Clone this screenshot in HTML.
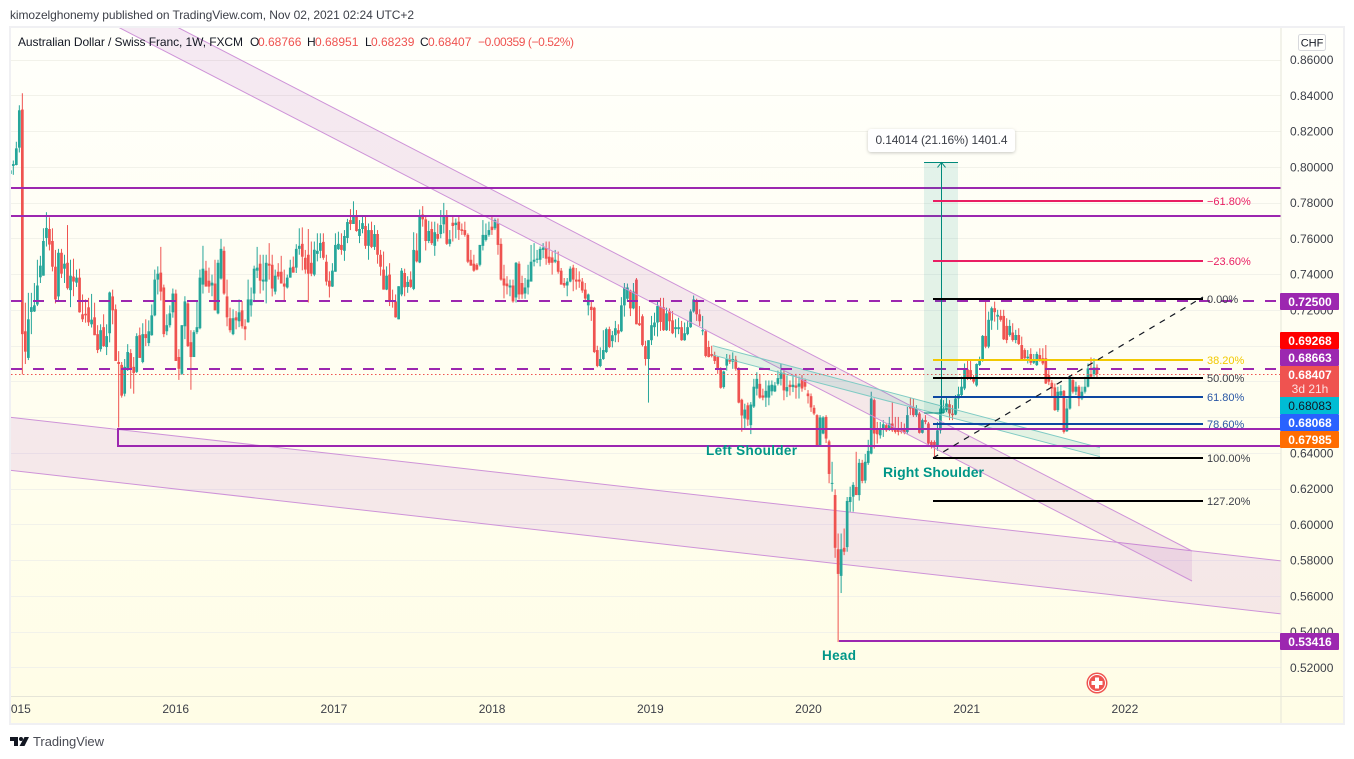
<!DOCTYPE html>
<html lang="en">
<head>
<meta charset="utf-8">
<title>AUD/CHF weekly chart</title>
<style>
html,body{margin:0;padding:0;background:#fff;width:1354px;height:759px;overflow:hidden}
svg{display:block;font-family:"Liberation Sans",sans-serif}
</style>
</head>
<body>
<svg id="chart" xmlns="http://www.w3.org/2000/svg" width="1354" height="759" viewBox="0 0 1354 759">
  <defs>
    <linearGradient id="bgGrad" x1="0" y1="0" x2="0" y2="1">
      <stop offset="0" stop-color="#fffffb"/>
      <stop offset="1" stop-color="#fffde6"/>
    </linearGradient>
    <clipPath id="pane"><rect x="11" y="28" width="1270" height="668"/></clipPath>
    <filter id="boxShadow" x="-10%" y="-30%" width="120%" height="170%">
      <feDropShadow dx="0" dy="1" stdDeviation="1.5" flood-color="#000000" flood-opacity="0.22"/>
    </filter>
  </defs>
  <text x="10" y="19" font-size="12" fill="#3c3f48" textLength="404" lengthAdjust="spacing">kimozelghonemy published on TradingView.com, Nov 02, 2021 02:24 UTC+2</text>
  <rect x="10" y="27" width="1334" height="697" fill="url(#bgGrad)" stroke="#f0f0f3" stroke-width="2"/>
  <g id="gridLayer"></g>
  <g clip-path="url(#pane)">
    <polygon points="-10,415 1300,563 1300,616 -10,468" fill="#9c27d0" fill-opacity="0.1" stroke="none"/>
    <line x1="-10" y1="415" x2="1300" y2="563" stroke="#ce93d8" stroke-width="1"/>
    <line x1="-10" y1="468" x2="1300" y2="616" stroke="#ce93d8" stroke-width="1"/>
    <g id="candleLayer"></g>
    <polygon points="118,27 177,27 1192,551 1192,581" fill="#9c27b0" fill-opacity="0.1" stroke="none"/>
    <line x1="177" y1="27" x2="1192" y2="551" stroke="#ce93d8" stroke-width="1"/>
    <line x1="118" y1="27" x2="1192" y2="581" stroke="#ce93d8" stroke-width="1"/>
    <polygon points="712.7,345.7 1100,447.7 1100,456.7 712.7,355" fill="#009688" fill-opacity="0.11" stroke="none"/>
    <line x1="712.7" y1="345.7" x2="1100" y2="447.7" stroke="#80cbc4" stroke-width="1"/>
    <line x1="712.7" y1="355" x2="1100" y2="456.7" stroke="#80cbc4" stroke-width="1"/>
    <g id="levelLayer"></g>
    <line x1="118" y1="428" x2="118" y2="447" stroke="#9c27b0" stroke-width="2"/>
    <line id="lastPriceLine" x1="11" x2="1281" stroke="#ef5350" stroke-width="1" stroke-dasharray="1.5 2.5"/>
    <g id="measureLayer"></g>
    <g id="fibLayer"></g>
    <line x1="933" y1="458" x2="1203" y2="297" stroke="#131722" stroke-width="1.2" stroke-dasharray="6 6"/>
    <text x="706" y="455" font-size="13.5" font-weight="700" fill="#009688" textLength="91">Left Shoulder</text>
    <text x="883" y="477" font-size="14" font-weight="700" fill="#009688" textLength="101">Right Shoulder</text>
    <text x="822" y="660" font-size="13.5" font-weight="700" fill="#009688" textLength="34">Head</text>
    <g>
      <circle cx="1097" cy="683" r="10.5" fill="#ef5350"/>
      <circle cx="1097" cy="683" r="9" fill="#fff"/>
      <circle cx="1097" cy="683" r="8" fill="#ef5350"/>
      <rect x="1091.5" y="681" width="11" height="4" fill="#fff"/>
      <rect x="1095" y="677.5" width="4" height="11" fill="#fff"/>
    </g>
  </g>
  <line x1="11" y1="696.5" x2="1343" y2="696.5" stroke="#e6e5d8" stroke-width="1"/>
  <line x1="1281" y1="28" x2="1281" y2="723" stroke="#e6e5d8" stroke-width="1"/>
  <g id="axisLayer"></g>

  <g font-size="12">
    <text x="18" y="46" fill="#131722" textLength="225">Australian Dollar / Swiss Franc, 1W, FXCM</text>
    <text x="250" y="46" fill="#131722">O</text>
    <text x="258" y="46" fill="#ef5350">0.68766</text>
    <text x="307" y="46" fill="#131722">H</text>
    <text x="315" y="46" fill="#ef5350">0.68951</text>
    <text x="365" y="46" fill="#131722">L</text>
    <text x="371" y="46" fill="#ef5350">0.68239</text>
    <text x="420" y="46" fill="#131722">C</text>
    <text x="428" y="46" fill="#ef5350">0.68407</text>
    <text x="478" y="46" fill="#ef5350" textLength="96">−0.00359 (−0.52%)</text>
  </g>

  <g>
    <rect x="1298.5" y="34.5" width="27" height="16" rx="2" fill="#fffffc" stroke="#d8d9dd"/>
    <text x="1312" y="46.5" font-size="11" fill="#131722" text-anchor="middle">CHF</text>
  </g>

  <g font-size="12" font-weight="700" text-anchor="middle">
    <rect x="1280" y="293" width="59" height="17" rx="1" fill="#9c27b0"/>
    <text x="1310" y="306" fill="#fff">0.72500</text>
    <rect x="1280" y="332" width="59" height="17" rx="1" fill="#ff0000"/>
    <text x="1310" y="345" fill="#fff">0.69268</text>
    <rect x="1280" y="349" width="59" height="17" rx="1" fill="#9c27b0"/>
    <text x="1310" y="362" fill="#fff">0.68663</text>
    <rect x="1280" y="366" width="59" height="31" fill="#ef5350"/>
    <text x="1310" y="379" fill="#fff">0.68407</text>
    <text x="1310" y="393" fill="#fde0e0" font-weight="400">3d 21h</text>
    <rect x="1280" y="397" width="59" height="17" fill="#00bcd4"/>
    <text x="1310" y="410" fill="#131722" font-weight="400">0.68083</text>
    <rect x="1280" y="414" width="59" height="17" rx="1" fill="#2962ff"/>
    <text x="1310" y="427" fill="#fff">0.68068</text>
    <rect x="1280" y="431" width="59" height="17" rx="1" fill="#ff6d00"/>
    <text x="1310" y="444" fill="#fff">0.67985</text>
    <rect x="1280" y="633" width="59" height="17" rx="1" fill="#9c27b0"/>
    <text x="1310" y="646" fill="#fff">0.53416</text>
  </g>

  <g>
    <polygon points="10,737 18,737 18,746 14,746 14,741 10,741" fill="#131722"/>
    <circle cx="21" cy="739" r="2" fill="#131722"/>
    <polygon points="24.5,737 29,737 24.5,746 19.5,746" fill="#131722"/>
    <text x="33" y="746" font-size="13" fill="#4a4c55" textLength="71">TradingView</text>
  </g>
</svg>
<script>
// Weekly OHLC, in pips (price x 10000)
const opens=[
7960,8005,8010,8107,8320,7080,6931,7188,7191,7230,
7382,7391,7602,7652,7585,7441,7275,7519,7430,7463,
7310,7386,7352,7380,7175,7178,7214,7119,7158,7064,
6980,7103,6992,7069,7275,7203,6908,6892,6731,6864,
6958,6881,6853,7058,6908,7064,7014,7058,7169,7369,
7408,7325,7080,7114,7186,7291,6936,6842,7108,7236,
7019,6936,7075,7097,7341,7419,7363,7336,7347,7180,
7375,7530,7275,7153,7064,7158,7136,7197,7108,7130,
7225,7291,7419,7458,7358,7358,7458,7452,7302,7413,
7413,7347,7325,7380,7441,7436,7541,7569,7491,7508,
7463,7397,7513,7530,7580,7469,7363,7330,7413,7539,
7563,7530,7602,7702,7680,7730,7613,7652,7669,7558,
7646,7552,7624,7508,7425,7313,7397,7252,7247,7147,
7286,7406,7328,7369,7317,7532,7465,7733,7706,7585,
7652,7558,7624,7624,7678,7720,7569,7687,7674,7693,
7650,7646,7619,7480,7458,7452,7452,7558,7591,7619,
7665,7656,7684,7569,7375,7347,7325,7336,7269,7458,
7350,7291,7325,7358,7469,7480,7480,7535,7545,7497,
7493,7469,7474,7419,7350,7336,7358,7436,7369,7369,
7358,7313,7225,7217,7212,6975,6886,6925,6964,7092,
7025,7058,7086,7080,7225,7262,7308,7208,7369,7125,
7164,6997,6925,7030,7103,7129,7217,7214,7086,7193,
7141,7092,7092,7103,7030,7064,7103,7191,7252,7175,
7080,7080,6992,6953,6947,6936,6870,6768,6888,6925,
6910,6921,6868,6697,6592,6666,6555,6659,6759,6786,
6721,6709,6709,6744,6744,6786,6814,6847,6744,6781,
6768,6777,6770,6814,6807,6732,6717,6652,6611,6439,
6508,6601,6464,6230,6164,5861,5712,5869,5873,6125,
6155,6209,6164,6344,6245,6344,6396,6695,6532,6498,
6536,6555,6530,6564,6536,6536,6536,6532,6517,6657,
6657,6611,6620,6512,6583,6564,6461,6461,6433,6526,
6624,6639,6672,6620,6614,6704,6723,6760,6867,6863,
6822,6777,6891,6914,7054,6994,7140,7209,7162,7166,
7166,7110,7059,7073,7031,7059,7003,6975,6929,6953,
6904,6891,6947,6929,6929,6835,6792,6766,6639,6721,
6747,6521,6648,6807,6742,6770,6704,6742,6770,6841,
6841,6877];
const highs=[
8000,8035,8140,8344,8411,7240,7295,7295,7350,7480,
7502,7656,7746,7717,7656,7535,7541,7541,7508,7674,
7480,7486,7425,7430,7286,7258,7267,7289,7240,7114,
7119,7175,7119,7302,7313,7230,6969,6908,6925,7008,
6980,6936,7069,7101,7125,7147,7141,7230,7425,7443,
7552,7341,7175,7225,7319,7313,6980,7114,7276,7243,
7086,7086,7247,7425,7558,7474,7436,7397,7480,7480,
7597,7554,7369,7212,7203,7193,7258,7249,7147,7369,
7325,7447,7552,7508,7508,7508,7573,7508,7425,7461,
7502,7425,7397,7480,7498,7567,7656,7661,7535,7652,
7582,7582,7628,7628,7628,7508,7415,7461,7628,7637,
7628,7646,7709,7763,7807,7758,7702,7730,7730,7683,
7693,7674,7646,7535,7526,7443,7461,7313,7286,7332,
7434,7430,7388,7415,7634,7628,7761,7780,7730,7698,
7693,7693,7683,7758,7798,7758,7646,7730,7711,7724,
7683,7693,7628,7535,7508,7461,7563,7702,7683,7693,
7730,7711,7711,7600,7452,7388,7369,7369,7467,7471,
7391,7378,7452,7563,7573,7535,7554,7573,7582,7582,
7526,7535,7526,7434,7378,7378,7443,7452,7434,7415,
7378,7350,7291,7249,7217,6999,6990,7086,7101,7106,
7082,7138,7119,7271,7350,7347,7313,7350,7378,7221,
7175,7027,7030,7166,7184,7249,7267,7267,7212,7208,
7193,7147,7156,7138,7129,7138,7203,7280,7262,7203,
7166,7091,7027,6999,6966,6940,6879,6860,6953,6949,
6962,6943,6879,6703,6675,6681,6684,6814,6851,6838,
6759,6805,6805,6805,6796,6860,6897,6860,6833,6805,
6833,6842,6826,6835,6816,6751,6732,6667,6616,6611,
6605,6611,6473,6350,6196,5949,5949,5977,6153,6211,
6236,6406,6366,6361,6394,6473,6742,6704,6573,6573,
6583,6564,6601,6685,6601,6601,6573,6564,6657,6710,
6704,6667,6629,6592,6611,6573,6470,6470,6573,6699,
6695,6713,6695,6667,6723,6770,6826,6900,6919,6919,
6835,6900,6938,7059,7260,7190,7218,7246,7200,7200,
7200,7153,7144,7125,7088,7097,7050,6985,6975,6985,
6953,6966,6985,6985,7003,6863,6807,6788,6770,6779,
6751,6704,6835,6826,6798,6779,6770,6826,6900,6934,
6929,6895];
const lows=[
7935,7955,8008,8080,6838,6897,6919,7064,7188,7221,
7350,7391,7554,7532,7415,7236,7249,7378,7350,7313,
7215,7276,7328,7184,7132,7128,7110,7101,7058,6958,
6966,6993,6947,7018,7119,6914,6542,6709,6716,6858,
6759,6731,6847,6931,6901,6997,6997,7055,7164,7286,
7252,7047,7058,7101,7156,6914,6808,6836,7036,6992,
6753,6936,7064,7091,7291,7330,7295,7276,7197,7175,
7369,7284,7108,7073,7058,7091,7103,7095,7030,7128,
7162,7243,7378,7291,7308,7236,7369,7275,7286,7369,
7347,7247,7319,7380,7408,7406,7508,7421,7402,7241,
7388,7388,7471,7489,7480,7336,7269,7328,7413,7535,
7508,7474,7573,7646,7680,7637,7573,7628,7541,7480,
7545,7535,7458,7391,7313,7310,7221,7212,7156,7147,
7276,7276,7295,7323,7310,7465,7461,7665,7532,7573,
7563,7502,7582,7600,7628,7563,7554,7582,7600,7591,
7619,7609,7461,7447,7413,7421,7443,7532,7582,7609,
7619,7646,7508,7363,7264,7286,7276,7240,7241,7258,
7262,7262,7286,7358,7443,7461,7443,7489,7452,7452,
7397,7461,7402,7341,7323,7276,7354,7304,7313,7323,
7295,7249,7169,7138,6958,6879,6879,6920,6958,6986,
6990,7019,7019,7075,7162,7249,7165,7203,7119,7110,
6995,6888,6681,7003,7055,7051,7082,7082,7082,7082,
7064,7045,7064,7027,7027,7058,7099,7184,7138,7110,
7058,6934,6934,6934,6897,6842,6759,6759,6860,6897,
6870,6860,6677,6518,6536,6551,6505,6651,6721,6703,
6694,6657,6666,6721,6740,6777,6777,6694,6712,6721,
6740,6703,6704,6742,6751,6676,6629,6611,6437,6439,
6504,6455,6230,6183,5813,5342,5616,5828,5847,6071,
6071,6164,6133,6230,6230,6333,6392,6424,6452,6480,
6489,6517,6523,6517,6508,6498,6508,6504,6508,6611,
6601,6601,6508,6508,6560,6442,6424,6369,6411,6508,
6620,6629,6583,6583,6611,6648,6713,6751,6807,6807,
6788,6770,6886,6910,6985,6985,7088,7134,7088,7134,
7031,7013,7050,7022,7013,7003,6923,6919,6900,6891,
6897,6886,6910,6891,6785,6779,6713,6635,6629,6713,
6508,6517,6642,6732,6723,6661,6695,6732,6766,6816,
6826,6824];
const closes=[
7980,8015,8103,8316,7064,6966,7147,7215,7225,7336,
7447,7585,7658,7565,7441,7258,7519,7402,7458,7321,
7391,7358,7380,7186,7147,7169,7130,7145,7058,6975,
7086,6997,7053,7297,7197,6914,6897,6720,6881,6964,
6875,6847,7053,6931,7064,7042,7080,7169,7369,7402,
7302,7064,7114,7180,7291,6914,6870,7114,7247,6997,
6936,7075,7103,7380,7430,7330,7330,7352,7197,7463,
7541,7291,7158,7086,7153,7141,7186,7108,7091,7258,
7258,7430,7436,7363,7369,7463,7447,7319,7391,7386,
7347,7330,7380,7436,7408,7541,7558,7497,7425,7402,
7402,7536,7530,7574,7491,7358,7330,7419,7563,7569,
7535,7613,7691,7680,7730,7641,7652,7685,7558,7646,
7552,7624,7508,7441,7313,7391,7252,7247,7158,7332,
7419,7326,7356,7328,7535,7471,7730,7706,7585,7641,
7573,7634,7597,7674,7730,7569,7595,7669,7687,7647,
7641,7619,7469,7447,7419,7425,7563,7619,7619,7646,
7646,7702,7563,7369,7336,7332,7336,7247,7463,7286,
7286,7325,7369,7469,7480,7486,7541,7548,7486,7463,
7463,7480,7413,7341,7336,7358,7430,7369,7358,7358,
7308,7263,7286,7199,6964,6886,6925,6975,7092,6992,
7058,7097,7067,7225,7325,7325,7208,7302,7119,7114,
7003,6925,7030,7114,7129,7221,7132,7086,7180,7136,
7069,7103,7103,7030,7069,7103,7191,7258,7175,7136,
7086,6942,6936,6942,6914,6870,6764,6855,6925,6910,
6925,6870,6681,6609,6642,6586,6670,6770,6814,6709,
6709,6747,6777,6781,6777,6818,6851,6749,6768,6768,
6781,6764,6788,6760,6770,6717,6654,6620,6437,6598,
6598,6480,6282,6232,5869,5723,5861,5847,6131,6153,
6221,6164,6344,6243,6350,6411,6704,6508,6504,6536,
6560,6526,6564,6526,6517,6517,6517,6512,6611,6648,
6611,6648,6512,6583,6573,6452,6442,6433,6526,6648,
6648,6676,6620,6611,6704,6728,6770,6872,6816,6816,
6798,6897,6919,7054,6994,7144,7209,7187,7172,7144,
7035,7031,7110,7031,7059,7009,6923,6929,6938,6904,
6919,6953,6923,6900,6788,6798,6760,6639,6742,6745,
6517,6648,6816,6742,6770,6704,6742,6770,6872,6826,
6878,6841];

const priceTicks=[0.86,0.84,0.82,0.80,0.78,0.76,0.74,0.72,0.70,0.68,0.66,0.64,0.62,0.60,0.58,0.56,0.54,0.52];
const yearLabels=[2015,2016,2017,2018,2019,2020,2021,2022];
const solidLevels=[0.7881,0.7722,0.6533,0.6438];
const dashedLevels=[0.725,0.68663];
const fibHigh=0.7261;
const fibLow=0.6371;
const fibRatios=[-0.618,-0.236,0,0.382,0.5,0.618,0.786,1,1.272];
const fibTexts=['−61.80%','−23.60%','0.00%','38.20%','50.00%','61.80%','78.60%','100.00%','127.20%'];
const fibColors=['#e91e63','#e91e63','#000000','#f2c900','#000000','#0d47a1','#0d47a1','#000000','#000000'];
const fibTextColors=['#e91e63','#e91e63','#3c3f48','#f2c900','#3c3f48','#2a57a5','#2a57a5','#3c3f48','#3c3f48'];
const measureLow=0.6623;
const measureHigh=0.8024;
const headLow=0.53416;

const NS='http://www.w3.org/2000/svg';
function mk(tag,attrs,parent){
  const e=document.createElementNS(NS,tag);
  for(const k in attrs){e.setAttribute(k,attrs[k]);}
  parent.appendChild(e);
  return e;
}
function yScale(price){return 59.5+(0.86-price)*1788;}
function pipY(pips){return yScale(pips/10000);}
function xScale(i){return 10.3+i*(1097-10.3)/(closes.length-1);}
function xYear(year){return 17.5+(year-2015)*158.2;}

const gridLayer=document.getElementById('gridLayer');
const axisLayer=document.getElementById('axisLayer');
const candleLayer=document.getElementById('candleLayer');
const levelLayer=document.getElementById('levelLayer');
const fibLayer=document.getElementById('fibLayer');
const measureLayer=document.getElementById('measureLayer');

priceTicks.forEach(function(p){
  const y=Math.round(yScale(p))+0.5;
  const g=mk('line',{x1:11,x2:1281,y1:y,y2:y,stroke:'#f2f2ea','stroke-width':1},gridLayer);
  
  
  const t=mk('text',{x:1290,y:yScale(p)+4.5,'font-size':12,fill:'#3c3f48'},axisLayer);
  t.textContent=p.toFixed(5);
  
  
});

yearLabels.forEach(function(yr){
  const cx=xYear(yr);
  const t=mk('text',{x:cx,y:713,'font-size':12,fill:'#3c3f48','text-anchor':'middle'},axisLayer);
  t.textContent=String(yr);
  
  
});
// clip the partially hidden first label at the chart frame
const leftMask=mk('rect',{x:0,y:700,width:9,height:22,fill:'#ffffff'},axisLayer);


const leftEdge=mk('rect',{x:9,y:700,width:2,height:22,fill:'#f0f0f3'},axisLayer);



closes.forEach(function(c,i){
  const o=opens[i],h=highs[i],l=lows[i];
  const color=c>=o?'#26a69a':'#ef5350';
  const x=xScale(i);
  const g=mk('g',{},candleLayer);
  
  
  mk('line',{x1:x,x2:x,y1:pipY(h),y2:pipY(l),stroke:color,'stroke-width':1},g);
  const top=pipY(Math.max(o,c));
  const bot=pipY(Math.min(o,c));
  mk('rect',{x:x-1.35,y:top,width:2.7,height:Math.max(1,bot-top),fill:color},g);
});

solidLevels.forEach(function(p,i){
  const y=Math.round(yScale(p));
  const startX=i<2?11:118;
  const ln=mk('line',{x1:startX,x2:1281,y1:y,y2:y,stroke:'#9c27b0','stroke-width':2},levelLayer);
  
  
});
dashedLevels.forEach(function(p){
  const y=Math.round(yScale(p));
  const ln=mk('line',{x1:11,x2:1281,y1:y,y2:y,stroke:'#9c27b0','stroke-width':2,'stroke-dasharray':'11 11'},levelLayer);
  
  
});
const headY=Math.round(yScale(headLow))-1;
const headLine=mk('line',{x1:839,x2:1281,y1:headY,y2:headY,stroke:'#9c27b0','stroke-width':2},levelLayer);



const lastY=Math.round(yScale(closes[closes.length-1]/10000))+0.5;
const lastLine=document.getElementById('lastPriceLine');
lastLine.setAttribute('y1',lastY);
lastLine.setAttribute('y2',lastY);

const mTop=yScale(measureHigh),mBot=yScale(measureLow);
const mRect=mk('rect',{x:924,y:mTop,width:34,height:mBot-mTop,fill:'#009688','fill-opacity':0.11},measureLayer);


const mV=mk('line',{x1:941.5,x2:941.5,y1:mTop,y2:mBot,stroke:'#00897b','stroke-width':1},measureLayer);


const mT=mk('line',{x1:924,x2:958,y1:mTop,y2:mTop,stroke:'#00897b','stroke-width':1},measureLayer);


const mB=mk('line',{x1:924,x2:944,y1:mBot,y2:mBot,stroke:'#00897b','stroke-width':1},measureLayer);


const mH=mk('polyline',{points:'937.5,'+(mTop+5)+' 941.5,'+mTop+' 945.5,'+(mTop+5),fill:'none',stroke:'#00897b','stroke-width':1},measureLayer);


const mBox=mk('rect',{x:868,y:129,width:147,height:23,rx:3,fill:'#ffffff',filter:'url(#boxShadow)'},measureLayer);


const mTxt=mk('text',{x:941.5,y:144,'font-size':12,fill:'#3c3f48','text-anchor':'middle',textLength:132},measureLayer);
mTxt.textContent='0.14014 (21.16%) 1401.4';



fibRatios.forEach(function(r,i){
  const price=fibHigh-r*(fibHigh-fibLow);
  const y=Math.round(yScale(price));
  const ln=mk('line',{x1:933,x2:1203,y1:y,y2:y,stroke:fibColors[i],'stroke-width':2},fibLayer);
  
  
  const t=mk('text',{x:1207,y:y+4,'font-size':11,fill:fibTextColors[i]},fibLayer);
  t.textContent=fibTexts[i];
  
  
});
</script>
</body>
</html>
